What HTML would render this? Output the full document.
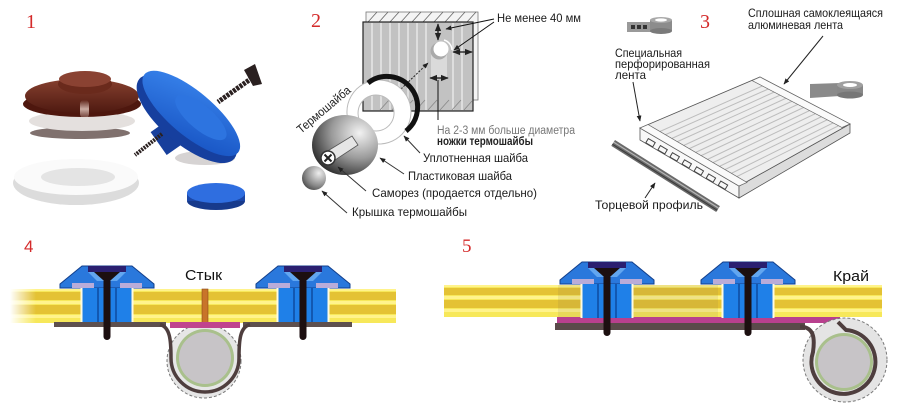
<!DOCTYPE html>
<html><head><meta charset="utf-8"><style>
html,body{margin:0;padding:0;background:#fff;}
svg{display:block;}
text{font-family:"Liberation Sans","DejaVu Sans",sans-serif;}
.n{font-family:"Liberation Serif",serif;fill:#d42a2a;}
.lb{font-size:12px;fill:#1a1a1a;}
</style></head><body>
<svg width="903" height="412" viewBox="0 0 903 412" xmlns="http://www.w3.org/2000/svg">
<defs>
 <marker id="ah" viewBox="0 0 10 10" refX="9" refY="5" markerWidth="6" markerHeight="6" orient="auto-start-reverse"><path d="M0,1 L10,5 L0,9 z" fill="#222"/></marker>
 <radialGradient id="pw" cx="0.72" cy="0.3" r="0.85"><stop offset="0" stop-color="#f2f2f2"/><stop offset="0.5" stop-color="#9a9a9a"/><stop offset="1" stop-color="#1e1e1e"/></radialGradient>
 <radialGradient id="cp" cx="0.7" cy="0.3" r="0.9"><stop offset="0" stop-color="#eee"/><stop offset="0.6" stop-color="#888"/><stop offset="1" stop-color="#333"/></radialGradient>
 <linearGradient id="fade" x1="0" y1="0" x2="1" y2="0"><stop offset="0" stop-color="#fff" stop-opacity="1"/><stop offset="1" stop-color="#fff" stop-opacity="0"/></linearGradient>
 <linearGradient id="br" x1="0" y1="0" x2="0" y2="1"><stop offset="0" stop-color="#86402f"/><stop offset="1" stop-color="#4e1910"/></linearGradient>
 <linearGradient id="bl" x1="0" y1="0" x2="1" y2="1"><stop offset="0" stop-color="#3a86ee"/><stop offset="1" stop-color="#1550c0"/></linearGradient>
 <linearGradient id="hl" x1="0" y1="0" x2="0" y2="1"><stop offset="0" stop-color="#e8cfc6" stop-opacity="0"/><stop offset="0.5" stop-color="#e8cfc6" stop-opacity="0.8"/><stop offset="1" stop-color="#e8cfc6" stop-opacity="0.2"/></linearGradient>
 <g id="w">
  <polygon points="-47,22 -47,18 -25,0 25,0 47,18 47,22" fill="#2a78dc" stroke="#123f8c" stroke-width="1"/>
  <polygon points="-19,6 19,6 10,15 -10,15" fill="#62a6f0"/>
  <rect x="-19" y="0" width="38" height="6" fill="#2a1f70"/>
  <rect x="-35" y="17" width="22" height="5" fill="#b9acd9"/>
  <rect x="13" y="17" width="22" height="5" fill="#b9acd9"/>
  <rect x="-25" y="22" width="50" height="34" fill="#1f80e8"/>
  <line x1="-25.5" y1="22" x2="-25.5" y2="56" stroke="#fffbe0" stroke-width="2"/>
  <line x1="25.5" y1="22" x2="25.5" y2="56" stroke="#fffbe0" stroke-width="2"/>
  <line x1="-9" y1="22" x2="-9" y2="56" stroke="#0e4aa0" stroke-width="1.5"/>
  <line x1="9" y1="22" x2="9" y2="56" stroke="#0e4aa0" stroke-width="1.5"/>
  <polygon points="-13,6 13,6 4,14 -4,14" fill="#1c0f10"/>
  <rect x="-3.5" y="10" width="7" height="64" rx="3.5" fill="#1c0f10"/>
 </g>
</defs>
<rect width="903" height="412" fill="#fff"/>

<!-- ========== PANEL 1 ========== -->
<text class="n" x="26" y="28" font-size="20">1</text>
<!-- brown cap -->
<ellipse cx="80" cy="133" rx="50" ry="6" fill="#4a3430" opacity="0.7"/>
<ellipse cx="82" cy="121" rx="53" ry="10" fill="#e4e0de"/>
<ellipse cx="82" cy="104" rx="59" ry="13" fill="#4e170e"/>
<ellipse cx="82" cy="96" rx="57" ry="17" fill="url(#br)"/>
<ellipse cx="85" cy="84" rx="27" ry="10" fill="#6a2a1c"/>
<ellipse cx="85" cy="79" rx="26" ry="8" fill="#8a4232"/>
<rect x="80" y="100" width="9" height="18" rx="4" fill="url(#hl)"/>
<!-- blue washer -->
<ellipse cx="205" cy="158" rx="30" ry="7" fill="#8a8080" opacity="0.35"/>
<g transform="rotate(-35 172 133)"><rect x="155" y="120" width="36" height="28" fill="#173f9c"/></g>
<line x1="162" y1="134" x2="135" y2="155" stroke="#2a2020" stroke-width="4" stroke-dasharray="2 1"/>
<g transform="rotate(40 190 115)">
 <ellipse cx="190" cy="120" rx="62" ry="25" fill="#163f9e"/>
 <ellipse cx="190" cy="113" rx="61" ry="22" fill="url(#bl)"/>
 <ellipse cx="200" cy="110" rx="32" ry="12" fill="#2d74e0"/>
</g>
<line x1="252" y1="78" x2="218" y2="102" stroke="#2a2020" stroke-width="5" stroke-dasharray="3 1"/>
<polygon points="244,70 255,64 262,84 253,86" fill="#2a2020"/>
<!-- white ring -->
<ellipse cx="76" cy="183" rx="63" ry="22" fill="#dcdcdc"/>
<ellipse cx="76" cy="177" rx="62" ry="18" fill="#fafafa"/>
<ellipse cx="78" cy="177" rx="37" ry="9" fill="#e4e4e4"/>
<!-- small blue cap -->
<ellipse cx="216" cy="201" rx="29" ry="9" fill="#173a8c"/>
<rect x="187" y="193" width="58" height="8" fill="#1b47a8"/>
<ellipse cx="216" cy="193" rx="29" ry="10" fill="#2f6ee0"/>

<!-- ========== PANEL 2 ========== -->
<text class="n" x="311" y="27" font-size="20">2</text>
<rect x="366" y="12" width="112" height="88" fill="#f4f4f4" stroke="#777" stroke-width="0.8"/>
<g stroke="#666" stroke-width="0.8">
 <line x1="368" y1="22" x2="377" y2="12"/><line x1="379" y1="22" x2="388" y2="12"/><line x1="390" y1="22" x2="399" y2="12"/>
 <line x1="401" y1="22" x2="410" y2="12"/><line x1="412" y1="22" x2="421" y2="12"/><line x1="423" y1="22" x2="432" y2="12"/>
 <line x1="434" y1="22" x2="443" y2="12"/><line x1="445" y1="22" x2="454" y2="12"/><line x1="456" y1="22" x2="465" y2="12"/>
 <line x1="467" y1="22" x2="476" y2="12"/>
</g>
<rect x="363" y="22" width="110" height="89" fill="#c2c2c2" stroke="#222" stroke-width="1.2"/>
<g stroke="#e6e6e6" stroke-width="1.6">
 <line x1="372" y1="23" x2="372" y2="110"/><line x1="381" y1="23" x2="381" y2="110"/><line x1="390" y1="23" x2="390" y2="110"/>
 <line x1="399" y1="23" x2="399" y2="110"/><line x1="408" y1="23" x2="408" y2="110"/><line x1="417" y1="23" x2="417" y2="110"/>
 <line x1="426" y1="23" x2="426" y2="110"/><line x1="453" y1="23" x2="453" y2="110"/><line x1="462" y1="23" x2="462" y2="110"/>
</g>
<g stroke="#888" stroke-width="0.8">
 <line x1="380" y1="110" x2="389" y2="100"/><line x1="392" y1="110" x2="401" y2="100"/><line x1="404" y1="110" x2="413" y2="100"/>
 <line x1="416" y1="110" x2="425" y2="100"/><line x1="428" y1="110" x2="437" y2="100"/><line x1="440" y1="110" x2="449" y2="100"/>
 <line x1="452" y1="110" x2="461" y2="100"/><line x1="464" y1="110" x2="472" y2="101"/>
</g>
<rect x="431" y="50" width="16" height="28" fill="#dadada"/>
<circle cx="439" cy="51" r="8.5" fill="#aaa"/>
<circle cx="441" cy="49" r="7.5" fill="#fff"/>
<path d="M444 40 A 11 11 0 0 1 452 50" fill="none" stroke="#fff" stroke-width="1.5"/>
<line x1="438" y1="24" x2="438" y2="40" stroke="#111" stroke-width="1.3" marker-start="url(#ah)" marker-end="url(#ah)"/>
<line x1="453" y1="52" x2="472" y2="52" stroke="#111" stroke-width="1.3" marker-start="url(#ah)" marker-end="url(#ah)"/>
<line x1="430" y1="78" x2="448" y2="78" stroke="#111" stroke-width="1.3" marker-start="url(#ah)" marker-end="url(#ah)"/>
<line x1="494" y1="19" x2="446" y2="29" stroke="#111" stroke-width="1" marker-end="url(#ah)"/>
<line x1="494" y1="22" x2="454" y2="50" stroke="#111" stroke-width="1" marker-end="url(#ah)"/>
<line x1="438" y1="80" x2="438" y2="120" stroke="#111" stroke-width="1"/>
<line x1="401" y1="89" x2="428" y2="63" stroke="#222" stroke-width="1" stroke-dasharray="2 1.5" marker-end="url(#ah)"/>
<text class="lb" x="497" y="22" textLength="84" lengthAdjust="spacingAndGlyphs">Не менее 40 мм</text>
<text x="437" y="134" font-size="11.5" fill="#777" textLength="138" lengthAdjust="spacingAndGlyphs">На 2-3 мм больше диаметра</text>
<text x="437" y="145" font-size="12" font-weight="bold" fill="#222" textLength="96" lengthAdjust="spacingAndGlyphs">ножки термошайбы</text>
<!-- sealing ring -->
<path d="M379 80 A32 32 0 1 1 378.9 80 Z M376 95 A18 18 0 1 0 376.1 95 Z" fill="#fff" fill-rule="evenodd" stroke="#bbb" stroke-width="1"/>
<path d="M368 83 A30 30 0 0 1 406 131" fill="none" stroke="#111" stroke-width="5"/>
<!-- plastic washer -->
<ellipse cx="345" cy="145" rx="33" ry="30" fill="url(#pw)"/>
<polygon points="326,152 352,136 358,145 332,162" fill="#e6e6e6" stroke="#555" stroke-width="0.8"/>
<circle cx="328" cy="158" r="7" fill="#fff" stroke="#333" stroke-width="1.5"/>
<path d="M324.5 154.5 L331.5 161.5 M331.5 154.5 L324.5 161.5" stroke="#222" stroke-width="2"/>
<circle cx="314" cy="178" r="12" fill="url(#cp)"/>
<text transform="translate(301 134) rotate(-40)" font-size="12" fill="#222" textLength="66" lengthAdjust="spacingAndGlyphs">Термошайба</text>
<g stroke="#333" stroke-width="1" fill="none">
 <line x1="420" y1="153" x2="404" y2="136" marker-end="url(#ah)"/>
 <line x1="404" y1="174" x2="380" y2="158" marker-end="url(#ah)"/>
 <line x1="366" y1="191" x2="338" y2="167" marker-end="url(#ah)"/>
 <line x1="347" y1="213" x2="322" y2="191" marker-end="url(#ah)"/>
</g>
<text class="lb" x="423" y="162" textLength="105" lengthAdjust="spacingAndGlyphs">Уплотненная шайба</text>
<text class="lb" x="408" y="180" textLength="104" lengthAdjust="spacingAndGlyphs">Пластиковая шайба</text>
<text class="lb" x="372" y="197" textLength="165" lengthAdjust="spacingAndGlyphs">Саморез (продается отдельно)</text>
<text class="lb" x="352" y="216" textLength="115" lengthAdjust="spacingAndGlyphs">Крышка термошайбы</text>

<!-- ========== PANEL 3 ========== -->
<text class="n" x="700" y="28" font-size="20">3</text>
<text class="lb" x="748" y="17" textLength="135" lengthAdjust="spacingAndGlyphs">Сплошная самоклеящаяся</text>
<text class="lb" x="748" y="29" textLength="95" lengthAdjust="spacingAndGlyphs">алюминевая лента</text>
<text class="lb" x="615" y="57" textLength="67" lengthAdjust="spacingAndGlyphs">Специальная</text>
<text class="lb" x="615" y="68" textLength="95" lengthAdjust="spacingAndGlyphs">перфорированная</text>
<text class="lb" x="615" y="79" textLength="31" lengthAdjust="spacingAndGlyphs">лента</text>
<text class="lb" x="595" y="209" textLength="108" lengthAdjust="spacingAndGlyphs">Торцевой профиль</text>
<!-- tape rolls -->
<rect x="627" y="22" width="25" height="10" fill="#9a9a9a"/>
<rect x="631" y="25" width="4" height="4" fill="#333"/><rect x="637" y="25" width="4" height="4" fill="#333"/><rect x="643" y="25" width="4" height="4" fill="#333"/>
<rect x="650" y="20" width="22" height="11" fill="#8c8c8c"/>
<ellipse cx="661" cy="31" rx="11" ry="3" fill="#7a7a7a"/>
<ellipse cx="661" cy="20" rx="11" ry="3" fill="#a8a8a8"/>
<ellipse cx="661" cy="20" rx="6" ry="1.6" fill="#fff"/>
<polygon points="810,84 840,83 840,96 810,98" fill="#8a8a8a"/>
<rect x="837" y="85" width="26" height="10" fill="#888"/>
<ellipse cx="850" cy="95" rx="13" ry="3.5" fill="#777"/>
<ellipse cx="850" cy="85" rx="13" ry="4" fill="#a0a0a0"/>
<ellipse cx="850" cy="85" rx="7" ry="2" fill="#fff"/>
<!-- panel -->
<polygon points="640,128 739,186 739,198 640,140" fill="#f8f8f8" stroke="#555" stroke-width="0.8"/>
<polygon points="739,186 850,124 850,133 739,198" fill="#dcdcdc" stroke="#555" stroke-width="0.8"/>
<polygon points="640,128 760,77 850,124 739,186" fill="#eeeeee" stroke="#555" stroke-width="0.8"/>
<g stroke="#bdbdbd" stroke-width="1">
 <line x1="652" y1="135" x2="769" y2="83"/><line x1="658" y1="138" x2="775" y2="86"/><line x1="664" y1="142" x2="781" y2="89"/>
 <line x1="670" y1="145" x2="787" y2="92"/><line x1="676" y1="149" x2="793" y2="95"/><line x1="682" y1="152" x2="799" y2="98"/>
 <line x1="688" y1="156" x2="805" y2="101"/><line x1="694" y1="159" x2="811" y2="104"/><line x1="700" y1="163" x2="817" y2="107"/>
 <line x1="706" y1="166" x2="823" y2="110"/><line x1="712" y1="170" x2="829" y2="113"/><line x1="718" y1="173" x2="835" y2="116"/>
 <line x1="724" y1="177" x2="841" y2="119"/><line x1="730" y1="180" x2="846" y2="122"/>
</g>
<polygon points="640,128 739,186 747,182.5 648,124.5" fill="#fafafa" stroke="#666" stroke-width="0.7"/>
<polygon points="760,77 850,124 842,127.5 752,80.5" fill="#fafafa" stroke="#666" stroke-width="0.7"/>
<g transform="translate(640 129) rotate(30.4)" fill="none" stroke="#444" stroke-width="1">
 <rect x="12" y="4" width="8" height="5"/><rect x="26" y="4" width="8" height="5"/><rect x="40" y="4" width="8" height="5"/>
 <rect x="54" y="4" width="8" height="5"/><rect x="68" y="4" width="8" height="5"/><rect x="82" y="4" width="8" height="5"/>
 <rect x="96" y="4" width="8" height="5"/>
</g>
<g transform="translate(615 140) rotate(32.2)">
 <rect x="0" y="0" width="124" height="7" fill="#6a6a6a"/>
 <line x1="0" y1="2.5" x2="124" y2="2.5" stroke="#b5b5b5" stroke-width="1.2"/>
 <line x1="0" y1="5" x2="124" y2="5" stroke="#3a3a3a" stroke-width="1"/>
</g>
<g stroke="#222" stroke-width="1" fill="none">
 <line x1="633" y1="82" x2="640" y2="121" marker-end="url(#ah)"/>
 <line x1="823" y1="36" x2="784" y2="84" marker-end="url(#ah)"/>
 <line x1="645" y1="198" x2="655" y2="183" marker-end="url(#ah)"/>
</g>

<!-- ========== PANEL 4 ========== -->
<text x="24" y="252" font-size="17" fill="#d42a2a">4</text>
<rect x="10" y="289" width="386" height="34" fill="#f7e85a"/>
<rect x="10" y="292" width="386" height="8" fill="#e4c234"/>
<rect x="10" y="305" width="386" height="9" fill="#e4c234"/>
<rect x="10" y="289" width="386" height="2" fill="#fff38c"/>
<rect x="10" y="301" width="386" height="3" fill="#fff38c"/>
<rect x="10" y="315" width="386" height="3" fill="#fff38c"/>
<rect x="10" y="288" width="26" height="36" fill="url(#fade)"/>
<rect x="202" y="289" width="6" height="34" fill="#c8742a" stroke="#8a4a1a" stroke-width="0.6"/>
<rect x="54" y="322" width="112" height="5" fill="#5e504e"/>
<rect x="243" y="322" width="109" height="5" fill="#5e504e"/>
<circle cx="204" cy="361" r="37" fill="#e6e6e6" stroke="#7a7a7a" stroke-width="1" stroke-dasharray="3 2"/>
<path d="M160 324.5 C170 327 171 340 171 358 A34 34 0 0 0 239 358 C239 340 240 327 250 324.5" fill="none" stroke="#4e3e3e" stroke-width="3.5"/>
<circle cx="205" cy="358" r="29" fill="#a9c08c"/>
<circle cx="205" cy="358" r="26" fill="#c7c4c7"/>
<rect x="170" y="322" width="70" height="6" fill="#c0438e"/>
<use href="#w" x="107" y="266"/>
<use href="#w" x="303" y="266"/>
<text x="185" y="280" font-size="15" fill="#111" textLength="37" lengthAdjust="spacingAndGlyphs">Стык</text>

<!-- ========== PANEL 5 ========== -->
<text class="n" x="462" y="252" font-size="19">5</text>
<rect x="444" y="285" width="438" height="32" fill="#f7e85a"/>
<rect x="444" y="288" width="438" height="7" fill="#e4c234"/>
<rect x="444" y="300" width="438" height="8" fill="#e4c234"/>
<rect x="444" y="285" width="438" height="2" fill="#fff38c"/>
<rect x="444" y="296" width="438" height="3" fill="#fff38c"/>
<rect x="444" y="309" width="438" height="3" fill="#fff38c"/>
<rect x="558" y="285" width="160" height="32" fill="#7a6a50" opacity="0.12"/>
<rect x="557" y="317" width="283" height="6" fill="#b8408e"/>
<rect x="555" y="323" width="250" height="7" fill="#5a4a4a"/>
<circle cx="845" cy="360" r="42" fill="#e4e4e4" stroke="#7a7a7a" stroke-width="1" stroke-dasharray="3 2"/>
<circle cx="844" cy="362" r="29" fill="#a9c08c"/>
<circle cx="844" cy="362" r="26" fill="#c7c4c7"/>
<path d="M800 326.5 C814 327 815 338 813 352 A32 32 0 1 0 846 330 L838 322" fill="none" stroke="#4e3e3e" stroke-width="4"/>
<use href="#w" x="607" y="262"/>
<use href="#w" x="748" y="262"/>
<text x="833" y="281" font-size="15" fill="#111" textLength="36" lengthAdjust="spacingAndGlyphs">Край</text>
</svg>
</body></html>
